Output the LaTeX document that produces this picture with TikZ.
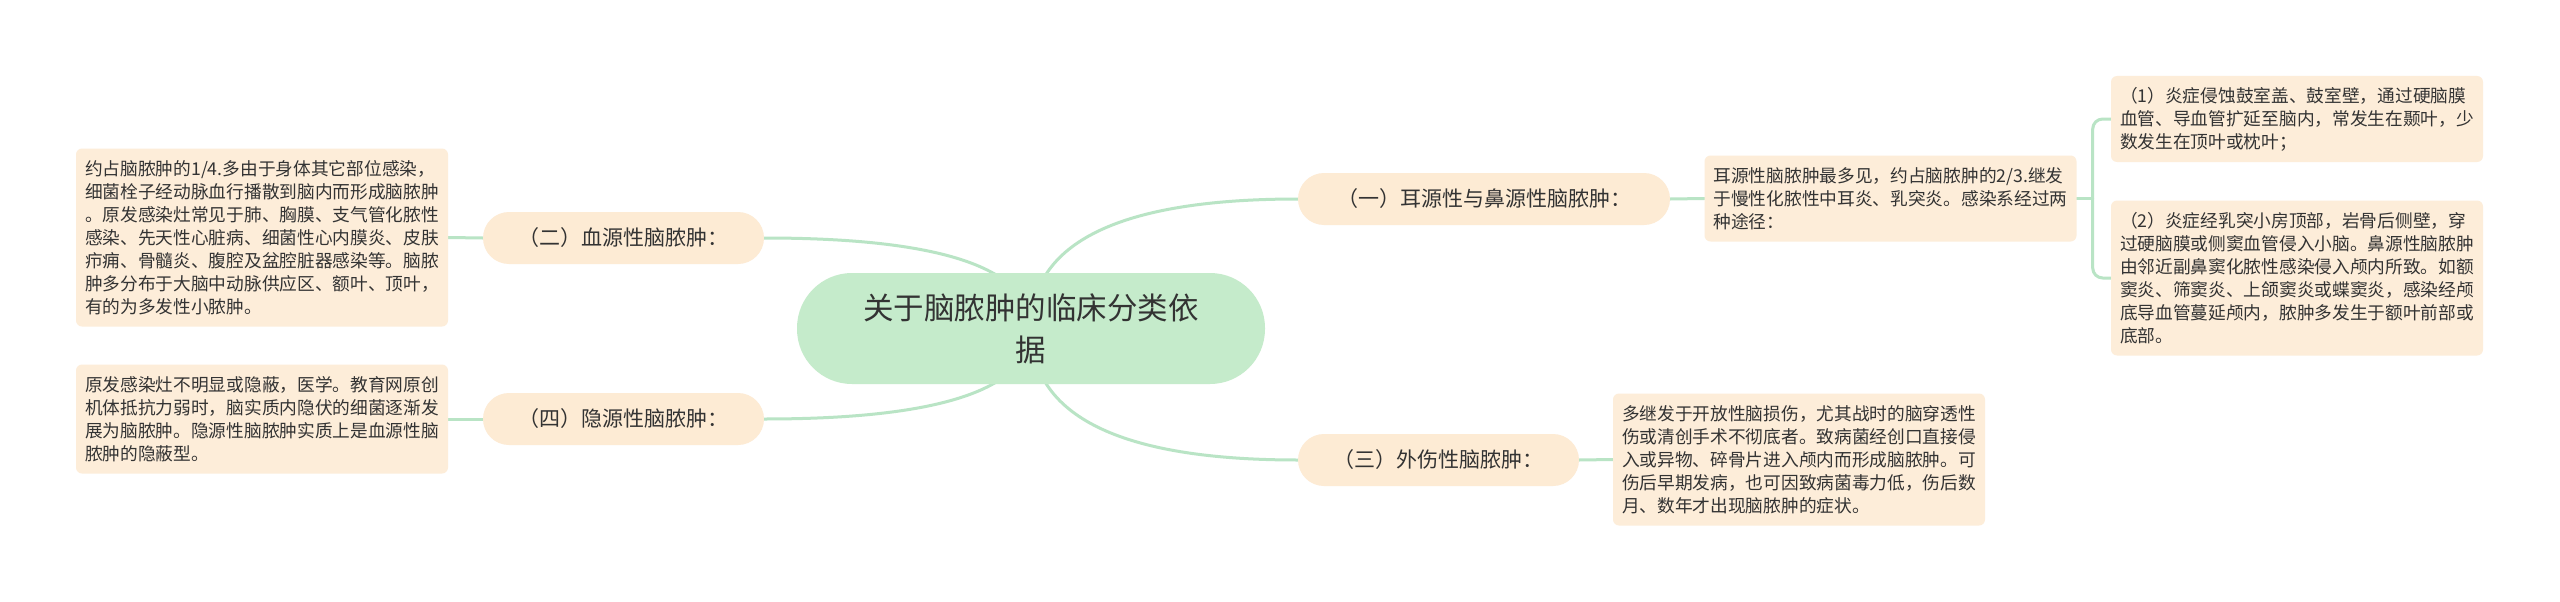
\documentclass[tikz,border=0pt]{standalone}
\usepackage{fontspec}
\setmainfont{Noto Sans CJK SC}
\usetikzlibrary{calc,backgrounds}
\definecolor{linkc}{HTML}{B9E4C5}
\definecolor{rootfill}{HTML}{C5EBCB}
\definecolor{topicfill}{HTML}{FDEBD4}
\definecolor{detailfill}{HTML}{FDEDD9}
\definecolor{txt}{HTML}{333333}
\tikzset{
  rootnode/.style={fill=rootfill, rounded corners=55pt, minimum width=468pt, minimum height=111pt,
    align=center, text=txt, inner sep=0pt, font=\fontsize{30.5}{42}\selectfont},
  topicnode/.style={fill=topicfill, rounded corners=26pt, minimum height=52pt, inner sep=0pt,
    text=txt, font=\fontsize{21}{26}\selectfont},
  detailnode/.style={fill=detailfill, rounded corners=6pt, minimum width=372pt, align=left,
    inner sep=0pt, text=txt, font=\fontsize{17.7}{23}\selectfont},
  linkline/.style={draw=linkc, line width=3pt, line cap=round}
}
\begin{document}
\begin{tikzpicture}[x=1pt,y=-1pt]
\useasboundingbox (0,0) rectangle (2560,602);
% central
\node[rootnode] (root) at (1031,328.5) {关于脑脓肿的临床分类依\\据};
% topics
\node[topicnode, minimum width=372pt] (n1) at (1484,199) {（一）耳源性与鼻源性脑脓肿：};
\node[topicnode, minimum width=281pt] (n3) at (1438.5,460) {（三）外伤性脑脓肿：};
\node[topicnode, minimum width=281pt] (n2) at (623.5,238) {（二）血源性脑脓肿：};
\node[topicnode, minimum width=281pt] (n4) at (623.5,419) {（四）隐源性脑脓肿：};
% details
\node[detailnode, minimum height=86pt] (d1) at (1890.5,198.5) {耳源性脑脓肿最多见，约占脑脓肿的2/3.继发\\于慢性化脓性中耳炎、乳突炎。感染系经过两\\种途径：};
\node[detailnode, minimum height=86pt] (d11) at (2297,119) {（1）炎症侵蚀鼓室盖、鼓室壁，通过硬脑膜\\血管、导血管扩延至脑内，常发生在颞叶，少\\数发生在顶叶或枕叶；};
\node[detailnode, minimum height=155pt] (d12) at (2297,278) {（2）炎症经乳突小房顶部，岩骨后侧壁，穿\\过硬脑膜或侧窦血管侵入小脑。鼻源性脑脓肿\\由邻近副鼻窦化脓性感染侵入颅内所致。如额\\窦炎、筛窦炎、上颌窦炎或蝶窦炎，感染经颅\\底导血管蔓延颅内，脓肿多发生于额叶前部或\\底部。};
\node[detailnode, minimum height=132pt] (d3) at (1799,459.5) {多继发于开放性脑损伤，尤其战时的脑穿透性\\伤或清创手术不彻底者。致病菌经创口直接侵\\入或异物、碎骨片进入颅内而形成脑脓肿。可\\伤后早期发病，也可因致病菌毒力低，伤后数\\月、数年才出现脑脓肿的症状。};
\node[detailnode, minimum height=178pt] (d2) at (262,237.5) {约占脑脓肿的1/4.多由于身体其它部位感染，\\细菌栓子经动脉血行播散到脑内而形成脑脓肿\\。原发感染灶常见于肺、胸膜、支气管化脓性\\感染、先天性心脏病、细菌性心内膜炎、皮肤\\疖痈、骨髓炎、腹腔及盆腔脏器感染等。脑脓\\肿多分布于大脑中动脉供应区、额叶、顶叶，\\有的为多发性小脓肿。};
\node[detailnode, minimum height=109pt] (d4) at (262,419) {原发感染灶不明显或隐蔽，医学。教育网原创\\机体抵抗力弱时，脑实质内隐伏的细菌逐渐发\\展为脑脓肿。隐源性脑脓肿实质上是血源性脑\\脓肿的隐蔽型。};
\begin{pgfonlayer}{background}
\fill[white] (0,0) rectangle (2560,602);
% curved links from root
\draw[linkline] (root.center) .. controls ($(root.center)!0.6667!(root.center |- n1.west)$) and ($(n1.west)!0.6667!(root.center |- n1.west)$) .. (n1.west);
\draw[linkline] (root.center) .. controls ($(root.center)!0.6667!(root.center |- n3.west)$) and ($(n3.west)!0.6667!(root.center |- n3.west)$) .. (n3.west);
\draw[linkline] (root.center) .. controls ($(root.center)!0.6667!(root.center |- n2.east)$) and ($(n2.east)!0.6667!(root.center |- n2.east)$) .. (n2.east);
\draw[linkline] (root.center) .. controls ($(root.center)!0.6667!(root.center |- n4.east)$) and ($(n4.east)!0.6667!(root.center |- n4.east)$) .. (n4.east);
% straight links
\draw[linkline] (n1.east) -- (d1.west);
\draw[linkline] (n3.east) -- (d3.west);
\draw[linkline] (n2.west) -- (d2.east);
\draw[linkline] (n4.west) -- (d4.east);
% elbow
\coordinate (j1) at ($(d1.east)+(16,0)$);
\draw[linkline] (d1.east) -- (j1);
\draw[linkline, rounded corners=10pt] (d11.west) -| (j1) |- (d12.west);
\end{pgfonlayer}
\end{tikzpicture}
\end{document}
